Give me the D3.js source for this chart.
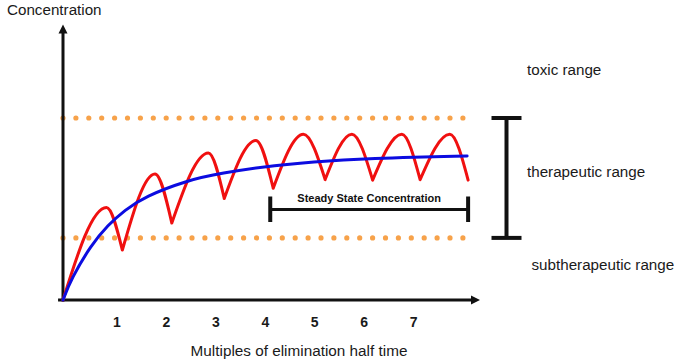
<!DOCTYPE html>
<html>
<head>
<meta charset="utf-8">
<script src="https://cdn.jsdelivr.net/npm/d3@7"></script>
<style>
  html, body { margin: 0; padding: 0; background: #fff; }
  svg { display: block; font-family: "Liberation Sans", Arial, sans-serif; }
</style>
</head>
<body>
<div id="chart"></div>
<script>
// time in multiples of elimination half time, concentration in arbitrary units
const xTicks = [1, 2, 3, 4, 5, 6, 7];

// dosing cycles: trough -> peak -> next trough
const troughT = [-0.09, 1.11, 2.11, 3.17, 4.16, 5.21, 6.17, 7.13, 8.10];
const troughC = [0, 18.5, 28.5, 37.6, 41.4, 44.6, 44.4, 44.6, 44.4];
const peakT = [0.79, 1.77, 2.85, 3.81, 4.77, 5.75, 6.76, 7.73];
const peakC = [34.3, 46.7, 54.4, 59.1, 61.4, 61.4, 61.4, 61.4];

// mean (smoothed) concentration curve
const meanT = [-0.09, 0.08, 0.48, 0.82, 1.16, 1.56, 2.44, 3.08, 4.20, 5.24, 6.52, 8.08];
const meanC = [0, 8.0, 20.4, 27.8, 33.3, 38.3, 44.4, 46.9, 50.0, 51.6, 52.7, 53.3];

// range limits
const toxicLimit = 67.4;
const subLimit = 23.0;
const steadyFrom = 4.1, steadyTo = 8.1;

const width = 681, height = 363;
const svg = d3.select('#chart').append('svg')
  .attr('width', width).attr('height', height);

const x = d3.scaleLinear().domain([-0.09, 8.3]).range([63, 478]);
const y = d3.scaleLinear().domain([0, 100]).range([300, 30]);

const ink = '#111';

// dotted limit lines
const dotted = svg.append('g')
  .attr('stroke', '#f7a24a')
  .attr('stroke-width', 5.2)
  .attr('stroke-linecap', 'round')
  .attr('stroke-dasharray', '0 12.9');
[toxicLimit, subLimit].forEach(v => {
  dotted.append('line')
    .attr('x1', x(-0.09)).attr('x2', x(8.05))
    .attr('y1', y(v)).attr('y2', y(v));
});

// axes with arrow heads
const axes = svg.append('g').attr('stroke', ink).attr('stroke-width', 3);
axes.append('line')
  .attr('x1', x(-0.19)).attr('x2', x(8.2))
  .attr('y1', y(0)).attr('y2', y(0));
axes.append('line')
  .attr('x1', x(-0.09)).attr('x2', x(-0.09))
  .attr('y1', y(0) + 1.5).attr('y2', y(99));
const xTip = [x(8.34), y(0)];
svg.append('path')
  .attr('d', `M${xTip[0]},${xTip[1]} l-9,-4.5 l0,9 Z`)
  .attr('fill', ink);
const yTip = [x(-0.09), y(102)];
svg.append('path')
  .attr('d', `M${yTip[0]},${yTip[1]} l-4.5,9 l9,0 Z`)
  .attr('fill', ink);

// tick labels
svg.append('g')
  .selectAll('text')
  .data(xTicks)
  .join('text')
  .attr('x', d => x(d))
  .attr('y', 327)
  .attr('text-anchor', 'middle')
  .attr('font-size', 14)
  .attr('font-weight', 'bold')
  .attr('fill', '#1a1a1a')
  .text(d => d);

// red dosing curve, one smooth arch per dosing interval
const arch = d3.line()
  .x(d => x(d[0])).y(d => y(d[1]))
  .curve(d3.curveMonotoneX);
const archPath = peakT.map((pt, i) => arch([
  [troughT[i], troughC[i]],
  [pt, peakC[i]],
  [troughT[i + 1], troughC[i + 1]]
])).join('');
svg.append('path')
  .attr('d', archPath)
  .attr('fill', 'none')
  .attr('stroke', '#f01010')
  .attr('stroke-width', 3)
  .attr('stroke-linejoin', 'round')
  .attr('stroke-linecap', 'round');

// blue mean curve
const meanLine = d3.line()
  .x((d, i) => x(meanT[i])).y(d => y(d))
  .curve(d3.curveBasis);
svg.append('path')
  .attr('d', meanLine(meanC))
  .attr('fill', 'none')
  .attr('stroke', '#0c0ce0')
  .attr('stroke-width', 3)
  .attr('stroke-linecap', 'round');

// steady state bracket
const ssY = 209.5;
const ss = svg.append('g').attr('stroke', ink);
ss.append('line').attr('stroke-width', 3)
  .attr('x1', x(steadyFrom)).attr('x2', x(steadyTo))
  .attr('y1', ssY).attr('y2', ssY);
[steadyFrom, steadyTo].forEach(v => {
  ss.append('line').attr('stroke-width', 4)
    .attr('x1', x(v)).attr('x2', x(v))
    .attr('y1', ssY - 13).attr('y2', ssY + 12.5);
});
svg.append('text')
  .attr('x', (x(steadyFrom) + x(steadyTo)) / 2)
  .attr('y', 201.5)
  .attr('text-anchor', 'middle')
  .attr('font-size', 11)
  .attr('font-weight', 'bold')
  .attr('fill', ink)
  .text('Steady State Concentration');

// therapeutic range bracket
const brX = 506.5;
const br = svg.append('g').attr('stroke', ink).attr('stroke-width', 4);
br.append('line')
  .attr('x1', brX).attr('x2', brX)
  .attr('y1', y(toxicLimit)).attr('y2', y(subLimit));
[toxicLimit, subLimit].forEach(v => {
  br.append('line')
    .attr('x1', brX - 15).attr('x2', brX + 15)
    .attr('y1', y(v)).attr('y2', y(v));
});

// labels
const labels = [
  { text: 'toxic range', x: 527, y: 75 },
  { text: 'therapeutic range', x: 527, y: 177 },
  { text: 'subtherapeutic range', x: 531.5, y: 270 },
  { text: 'Concentration', x: 7, y: 15 }
];
svg.append('g')
  .selectAll('text')
  .data(labels)
  .join('text')
  .attr('x', d => d.x).attr('y', d => d.y)
  .attr('font-size', 15.2)
  .attr('fill', '#1a1a1a')
  .text(d => d.text);

svg.append('text')
  .attr('x', 299).attr('y', 356)
  .attr('text-anchor', 'middle')
  .attr('font-size', 15.3)
  .attr('fill', '#1a1a1a')
  .text('Multiples of elimination half time');
</script>
</body>
</html>
